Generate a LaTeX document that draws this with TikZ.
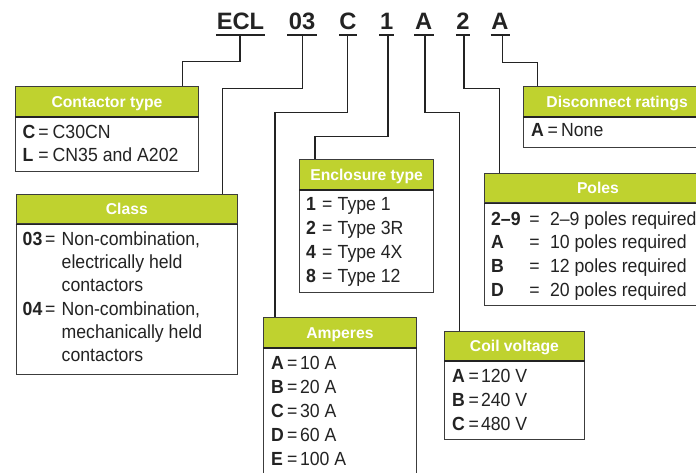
\documentclass[tikz,border=0pt]{standalone}
\usepackage{fontspec}
\usepackage{array}
\newfontfamily\codefont{Liberation Sans}
\newfontfamily\headfont{Liberation Sans}
\newfontfamily\bodyfont{Liberation Sans}[FakeStretch=0.93]
\definecolor{leaf}{RGB}{191,210,47}
\definecolor{ink}{RGB}{35,35,35}
\definecolor{rim}{RGB}{60,60,60}

\tikzset{
  code/.style={anchor=base, inner xsep=0pt, inner ysep=5.4pt, text depth=0pt,
    font=\codefont\bfseries\fontsize{23.7}{26}\selectfont, text=ink},
  uline/.style={line width=2pt, draw=ink},
  wire/.style={line width=1.1pt, draw=ink},
  head/.style={anchor=north west, fill=leaf, draw=rim, line width=0.9pt, inner sep=0pt,
    text height=11.2pt, text depth=0pt, text=white,
    font=\headfont\bfseries\fontsize{15.7}{18}\selectfont},
  panel/.style={anchor=north, draw=rim, line width=0.9pt, inner sep=0pt, fill=white},
  sep/.style={line width=1.2pt, draw=ink},
  entries/.style={anchor=base west, inner sep=0pt, text=ink,
    font=\bodyfont\fontsize{19}{24}\selectfont},
  tight/.style={font=\bodyfont\fontsize{19}{23.35}\selectfont},
}

\begin{document}
\begin{tikzpicture}[x=1pt, y=-1pt]
\path[use as bounding box] (0,0) rectangle (696,472);
\clip (0,0) rectangle (696,472);

% ordering code
\node[code, minimum width=49pt]   (ecl)  at (240.5,29.3) {ECL};
\node[code, minimum width=29.4pt] (cls)  at (302,29.3)   {03};
\node[code, minimum width=17.4pt] (amps) at (348,29.3)   {C};
\node[code, minimum width=14.7pt] (encl) at (386.7,29.3) {1};
\node[code, minimum width=19pt]   (coil) at (423.8,29.3) {A};
\node[code, minimum width=14pt]   (pole) at (463,29.3)   {2};
\node[code, minimum width=18.6pt] (disc) at (500,29.3)   {A};
\foreach \n in {ecl,cls,amps,encl,coil,pole,disc}
  \draw[uline] (\n.south west) -- (\n.south east);

% Contactor type
\node[head, minimum width=183pt, minimum height=30pt] (ctypeh) at (15,86) {Contactor type};
\node[panel, minimum width=183pt, minimum height=54pt] (ctypeb) at (ctypeh.south) {};
\draw[sep] (ctypeh.south west) -- (ctypeh.south east);
\node[entries, tight] (ctypet) at (22.5,138.3) {%
  \begin{tabular}[t]{@{}>{\bfseries}p{15.7pt}@{}p{14.3pt}@{}l@{}}
  C&=&C30CN\\
  L&=&CN35 and A202
  \end{tabular}};

% Class
\node[head, minimum width=221.8pt, minimum height=29.3pt] (classh) at (15.5,194) {Class};
\node[panel, minimum width=221.8pt, minimum height=150pt] (classb) at (classh.south) {};
\draw[sep] (classh.south west) -- (classh.south east);
\node[entries, tight] (classt) at (22.5,245) {%
  \begin{tabular}[t]{@{}>{\bfseries}p{22.4pt}@{}p{16.6pt}@{}l@{}}
  03&=&Non-combination,\\
  &&electrically held\\
  &&contactors\\
  04&=&Non-combination,\\
  &&mechanically held\\
  &&contactors
  \end{tabular}};

% Enclosure type
\node[head, minimum width=134.3pt, minimum height=29.7pt] (enclh) at (299,159.3) {Enclosure type};
\node[panel, minimum width=134.3pt, minimum height=102pt] (enclb) at (enclh.south) {};
\draw[sep] (enclh.south west) -- (enclh.south east);
\node[entries] (enclt) at (305.9,210) {%
  \begin{tabular}[t]{@{}>{\bfseries}p{16pt}@{}p{15.6pt}@{}l@{}}
  1&=&Type 1\\
  2&=&Type 3R\\
  4&=&Type 4X\\
  8&=&Type 12
  \end{tabular}};

% Amperes
\node[head, minimum width=152.4pt, minimum height=29.7pt] (amph) at (263.3,317.3) {Amperes};
\node[panel, minimum width=152.4pt, minimum height=143pt] (ampb) at (amph.south) {};
\draw[sep] (amph.south west) -- (amph.south east);
\node[entries] (ampt) at (270.9,369.3) {%
  \begin{tabular}[t]{@{}>{\bfseries}p{16pt}@{}p{13pt}@{}l@{}}
  A&=&10 A\\
  B&=&20 A\\
  C&=&30 A\\
  D&=&60 A\\
  E&=&100 A
  \end{tabular}};

% Coil voltage
\node[head, minimum width=139.4pt, minimum height=29.3pt] (coilh) at (444.3,330.7) {Coil voltage};
\node[panel, minimum width=139.4pt, minimum height=78.3pt] (coilb) at (coilh.south) {};
\draw[sep] (coilh.south west) -- (coilh.south east);
\node[entries] (coilt) at (451.9,382.7) {%
  \begin{tabular}[t]{@{}>{\bfseries}p{16.6pt}@{}p{12.4pt}@{}l@{}}
  A&=&120 V\\
  B&=&240 V\\
  C&=&480 V
  \end{tabular}};

% Poles
\node[head, minimum width=226.4pt, minimum height=29.6pt] (poleh) at (484.3,172.7) {Poles};
\node[panel, minimum width=226.4pt, minimum height=102pt] (poleb) at (poleh.south) {};
\draw[sep] (poleh.south west) -- (poleh.south east);
\node[entries, font=\bodyfont\fontsize{19}{23.9}\selectfont] (polet) at (490.9,225) {%
  \begin{tabular}[t]{@{}>{\bfseries}p{38.3pt}@{}p{20.7pt}@{}l@{}}
  2–9&=&2–9 poles required\\
  A&=&10 poles required\\
  B&=&12 poles required\\
  D&=&20 poles required
  \end{tabular}};

% Disconnect ratings
\node[head, minimum width=186.7pt, minimum height=30pt] (disch) at (523.3,86) {Disconnect ratings};
\node[panel, minimum width=186.7pt, minimum height=30pt] (discb) at (disch.south) {};
\draw[sep] (disch.south west) -- (disch.south east);
\node[entries] (disct) at (530.9,136.7) {%
  \begin{tabular}[t]{@{}>{\bfseries}p{16.6pt}@{}p{13.4pt}@{}l@{}}
  A&=&None
  \end{tabular}};

% leaders from each code field to its table
\draw[wire] ([xshift=-0.5pt]ecl.south) -- ++(0,26.3) -| ([xshift=167.3pt]ctypeh.north west);
\draw[wire] ([xshift=0.3pt]cls.south) -- ++(0,53.6) -| ([xshift=206.8pt]classh.north west);
\draw[wire] ([xshift=-0.5pt]amps.south) -- ++(0,78) -| ([xshift=11.7pt]amph.north west);
\draw[wire] ([xshift=1.3pt]encl.south) -- ++(0,102) -| ([xshift=16pt]enclh.north west);
\draw[wire] ([xshift=1.2pt]coil.south) -- ++(0,78) -| ([xshift=15pt]coilh.north west);
\draw[wire] ([xshift=1pt]pole.south) -- ++(0,53.6) -| ([xshift=15pt]poleh.north west);
\draw[wire] ([xshift=2.3pt]disc.south) -- ++(0,27.6) -| ([xshift=14.4pt]disch.north west);
\end{tikzpicture}
\end{document}
